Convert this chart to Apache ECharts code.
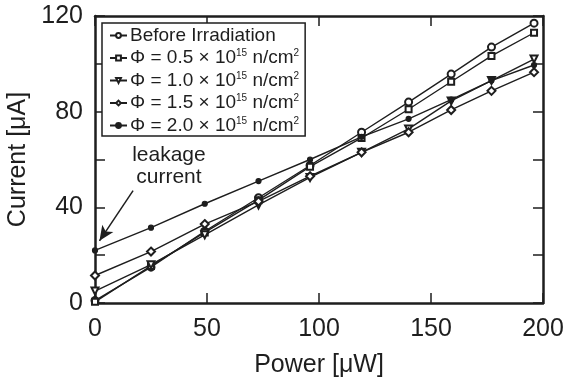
<!DOCTYPE html>
<html>
<head>
<meta charset="utf-8">
<script src="https://cdn.jsdelivr.net/npm/echarts@6/dist/echarts.min.js"></script>
<style>
html,body{margin:0;padding:0;background:#fff;}
#c{width:566px;height:379px;}
</style>
</head>
<body>
<div id="c"></div>
<script>
// Data
var power = [0, 25, 49, 73, 96, 119, 140, 159, 177, 196];
var before = [1, 15, 30, 44, 57.5, 71.4, 84, 95.7, 107, 117];
var phi05 = [0.5, 15.5, 29.5, 43, 57, 69, 81, 92.5, 103.3, 113];
var phi10 = [5, 16, 28.5, 41, 52.5, 63, 72.8, 84.5, 93, 102];
var phi15 = [11.5, 21.5, 33, 42.5, 53, 63, 71.4, 80.7, 88.7, 96.5];
var phi20 = [22, 31.5, 41.5, 51, 60, 69.5, 77, 85, 93, 99.5];
var seriesNames = ['Before Irradiation', 'Φ = 0.5', 'Φ = 1.0', 'Φ = 1.5', 'Φ = 2.0'];
var xTicks = [0, 50, 100, 150, 200];
var yTicks = [0, 40, 80, 120];

function pairs(arr) { return power.map(function (x, i) { return [x, arr[i]]; }); }

var FONT = 'Liberation Sans, Arial, Helvetica, sans-serif';
var INK = '#1e1e1e';

function mkSeries(name, arr, symbol, size, extra) {
  var s = {
    name: name, type: 'line', data: pairs(arr),
    symbol: symbol, symbolSize: size, showAllSymbol: true,
    lineStyle: { color: INK, width: 1.4 },
    itemStyle: { color: INK, borderColor: INK, borderWidth: 1.2 },
    emphasis: { disabled: true }, animation: false, z: 3
  };
  if (extra) for (var k in extra) s[k] = extra[k];
  return s;
}

var tickStyle = { show: true, inside: true, length: 10, lineStyle: { color: INK, width: 1.5 } };
var axisLineStyle = { color: INK, width: 2.5 };

var chart = echarts.init(document.getElementById('c'), null, { renderer: 'canvas' });
chart.setOption({
  backgroundColor: '#fff',
  animation: false,
  textStyle: { fontFamily: FONT },
  grid: { left: 95, right: 23, top: 16, bottom: 76, containLabel: false, outerBoundsMode: 'none' },
  legend: {
    orient: 'vertical', left: 102, top: 23,
    padding: [3, 6, 1, 7],
    itemGap: 3.5, itemWidth: 17, itemHeight: 6,
    borderColor: INK, borderWidth: 1.5, backgroundColor: '#fff',
    data: seriesNames,
    formatter: function (n) {
      if (n === seriesNames[0]) return '{a|' + n + '}';
      return '{a|' + n + ' × 10}{s|15}{a| n/cm}{s|2}';
    },
    textStyle: {
      fontFamily: FONT, color: INK, fontSize: 19, padding: [0, 0, 0, -2],
      rich: {
        a: { fontFamily: FONT, fontSize: 19, color: INK, lineHeight: 19 },
        s: { fontFamily: FONT, fontSize: 10, color: INK, lineHeight: 10, verticalAlign: 'top' }
      }
    }
  },
  xAxis: [{
    type: 'value', min: 0, max: 200, interval: 50,
    name: 'Power [μW]', nameLocation: 'middle', nameGap: 50,
    nameTextStyle: { fontFamily: FONT, fontSize: 25, color: INK },
    axisLine: { show: true, onZero: false, lineStyle: axisLineStyle },
    axisTick: tickStyle,
    axisLabel: { fontFamily: FONT, fontSize: 25, color: INK, margin: 14,
      formatter: function (v) { return xTicks.indexOf(v) >= 0 ? String(v) : ''; } },
    splitLine: { show: false }
  }, {
    type: 'value', min: 0, max: 200, interval: 50, position: 'top',
    axisLine: { show: true, onZero: false, lineStyle: axisLineStyle },
    axisTick: tickStyle,
    axisLabel: { show: false }, splitLine: { show: false }
  }],
  yAxis: [{
    type: 'value', min: 0, max: 120, interval: 20,
    name: 'Current [μA]', nameLocation: 'middle', nameGap: 56, nameRotate: 90,
    nameTextStyle: { fontFamily: FONT, fontSize: 25, color: INK },
    axisLine: { show: true, onZero: false, lineStyle: axisLineStyle },
    axisTick: tickStyle,
    axisLabel: { fontFamily: FONT, fontSize: 25, color: INK, margin: 12,
      formatter: function (v) { return yTicks.indexOf(v) >= 0 ? String(v) : ''; } },
    splitLine: { show: false }
  }, {
    type: 'value', min: 0, max: 120, interval: 20, position: 'right',
    axisLine: { show: true, onZero: false, lineStyle: axisLineStyle },
    axisTick: tickStyle,
    axisLabel: { show: false }, splitLine: { show: false }
  }],
  series: [
    mkSeries(seriesNames[0], before, 'emptyCircle', 7),
    mkSeries(seriesNames[1], phi05, 'emptyRect', 6),
    mkSeries(seriesNames[2], phi10, 'emptyTriangle', 7, { symbolRotate: 180 }),
    mkSeries(seriesNames[3], phi15, 'emptyDiamond', 8),
    mkSeries(seriesNames[4], phi20, 'circle', 5, {
      markLine: {
        silent: true, animation: false,
        symbol: ['none', 'arrow'], symbolSize: [10, 15],
        lineStyle: { color: INK, width: 1.5, type: 'solid' },
        label: { show: false },
        data: [[{ coord: [17, 47] }, { coord: [2, 26] }]]
      },
      markPoint: {
        silent: true, animation: false,
        symbol: 'circle', symbolSize: 0,
        label: { show: true, position: 'inside', formatter: 'leakage\ncurrent',
          fontFamily: FONT, fontSize: 21, lineHeight: 22, color: INK, align: 'center' },
        data: [{ coord: [33, 57] }]
      }
    })
  ]
});
</script>
</body>
</html>
